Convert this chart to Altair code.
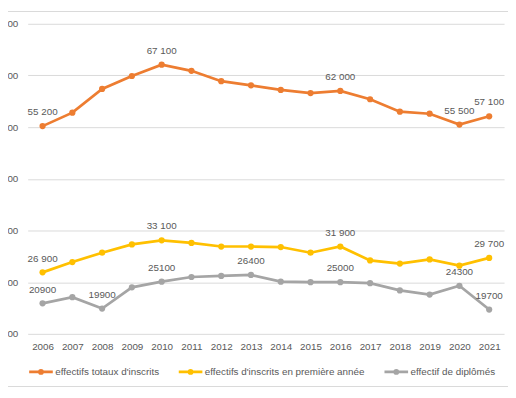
import altair as alt
import pandas as pd

years = [str(y) for y in range(2006, 2022)]
series_names = [
    "effectifs totaux d'inscrits",
    "effectifs d'inscrits en première année",
    "effectif de diplômés",
]
total = [55200, 57800, 62400, 64900, 67100, 65900, 63900, 63100, 62200, 61600, 62000, 60400, 58000, 57600, 55500, 57100]
first_year = [26900, 28900, 30700, 32300, 33100, 32600, 31900, 31900, 31800, 30700, 31900, 29200, 28600, 29400, 28200, 29700]
graduates = [20900, 22100, 19900, 24000, 25100, 26000, 26200, 26400, 25100, 25000, 25000, 24800, 23400, 22600, 24300, 19700]
total_labels = ["55 200", "", "", "", "67 100", "", "", "", "", "", "62 000", "", "", "", "55 500", "57 100"]
first_labels = ["26 900", "", "", "", "33 100", "", "", "", "", "", "31 900", "", "", "", "", "29 700"]
grad_labels = ["20900", "", "19900", "", "25100", "", "", "26400", "", "", "25000", "", "", "", "24300", "19700"]
colors = ["#ED7D31", "#FFC000", "#A5A5A5"]
y_ticks = [15000, 25000, 35000, 45000, 55000, 65000, 75000]

rows = []
for name, vals, labs in zip(series_names, [total, first_year, graduates], [total_labels, first_labels, grad_labels]):
    for yr, v, lb in zip(years, vals, labs):
        rows.append({"year": yr, "value": v, "series": name, "label": lb})
df = pd.DataFrame(rows)

FONT = "Liberation Sans"
TXT = "#595959"
GRID = "#D9D9D9"

color_scale = alt.Scale(domain=series_names, range=colors)
x = alt.X("year:O", scale=alt.Scale(type="point", padding=0.5),
          axis=alt.Axis(title=None, labelAngle=0, ticks=False, domain=False, grid=False,
                        labelPadding=8, labelFontSize=10, labelColor=TXT, labelFont=FONT))
y = alt.Y("value:Q", scale=alt.Scale(domain=[15000, 75000], nice=False, zero=False),
          axis=alt.Axis(title=None, values=y_ticks, ticks=False, domain=False, grid=True,
                        gridColor=GRID, gridWidth=1, labelPadding=10, labelFontSize=10,
                        labelColor=TXT, labelFont=FONT,
                        labelExpr="replace(format(datum.value, ','), ',', ' ')"))

legend = alt.Legend(title=None, orient="none", legendX=0, legendY=340, direction="horizontal",
                    symbolType="M-1,0H1M0.13,0A0.13,0.13,0,1,1,-0.13,0A0.13,0.13,0,1,1,0.13,0",
                    symbolSize=576, symbolStrokeWidth=2.75, labelFontSize=10, labelColor=TXT,
                    labelFont=FONT, labelOffset=1, columnPadding=14, padding=0, labelLimit=400)

base = alt.Chart(df)
lines = base.mark_line(strokeWidth=2.75).encode(
    x=x, y=y, color=alt.Color("series:N", scale=color_scale, legend=legend))
points = base.mark_point(filled=True, size=40, opacity=1).encode(
    x=x, y=y, color=alt.Color("series:N", scale=color_scale, legend=None))
labels = base.mark_text(dy=-14, fontSize=10, color=TXT, font=FONT).encode(
    x=x, y=y, text="label:N")

top_edge = alt.Chart(alt.Data(values=[{}])).mark_rule(color=GRID, strokeWidth=1).encode(
    x=alt.value(-20), x2=alt.value(488), y=alt.value(-12.5))
bottom_edge = alt.Chart(alt.Data(values=[{}])).mark_rule(color=GRID, strokeWidth=1).encode(
    x=alt.value(-20), x2=alt.value(488), y=alt.value(368.5))

chart = alt.layer(top_edge, bottom_edge, lines, points, labels).properties(
    width=484, height=315,
    autosize=alt.AutoSizeParams(type="none"),
    padding={"left": 20, "top": 13, "right": 4, "bottom": 54},
    background="white",
).configure_view(stroke=None)

chart.save("out.html", embed_options={"renderer": "svg", "actions": False})
